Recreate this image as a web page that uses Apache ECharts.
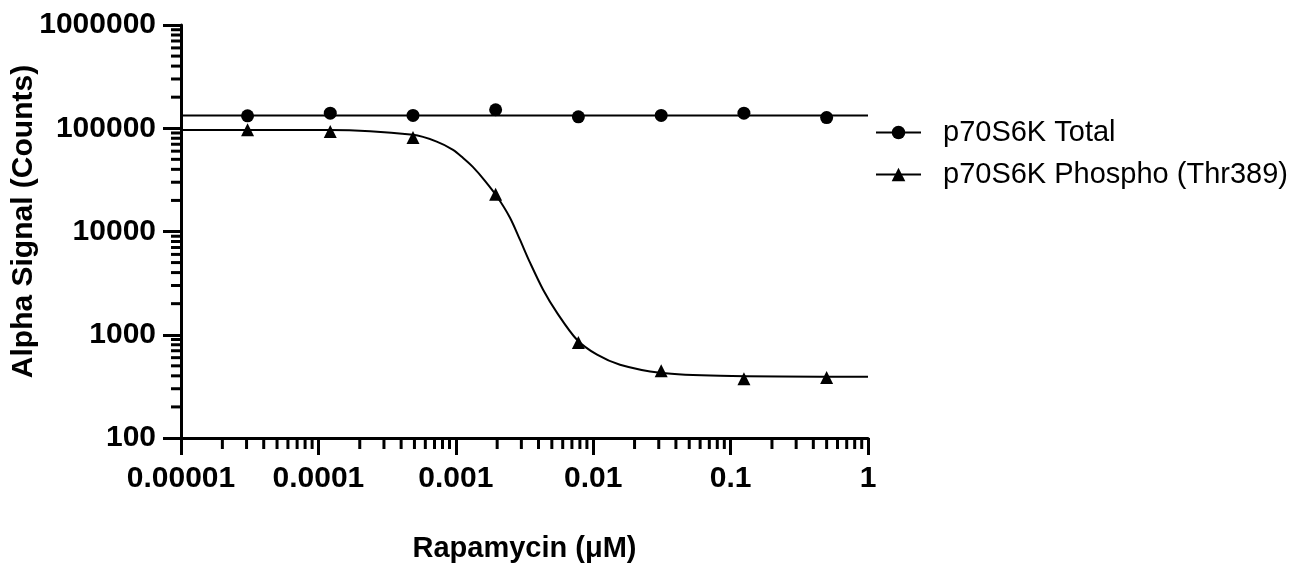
<!DOCTYPE html>
<html>
<head>
<meta charset="utf-8">
<script src="https://cdn.jsdelivr.net/npm/echarts@6/dist/echarts.min.js"></script>
<style>
html,body{margin:0;padding:0;background:#fff;}
#chart{width:1305px;height:568px;}
</style>
</head>
<body>
<div id="chart"></div>
<script>
// Concentrations (µM), four-fold dilution series
const concentrations = [0.0000305, 0.000122, 0.000488, 0.00195, 0.0078, 0.03125, 0.125, 0.5];
// Measured points
const totalValues   = [132000, 140000, 133000, 151000, 129000, 133000, 140000, 127000];
const phosphoValues = [96700, 93000, 81300, 22900, 842, 448, 375, 386];
// Fitted curves
const totalFitX = [0.00001, 1];
const totalFitY = [133000, 133000];
const phosphoFitX = [0.00001, 0.000121, 0.000489, 0.000726, 0.000955, 0.00113, 0.00133, 0.00163, 0.0020, 0.00248, 0.00293, 0.00347, 0.00432, 0.00546, 0.00762, 0.01067, 0.01567, 0.0306, 0.0838, 1];
const phosphoFitY = [96000, 96000, 86300, 74300, 61800, 51600, 42300, 31000, 21700, 13600, 8330, 4990, 2730, 1630, 895, 641, 513, 429, 401, 392];
// Axis tick labels
const xTickLabels = ['0.00001', '0.0001', '0.001', '0.01', '0.1', '1'];
const yTickLabels = ['100', '1000', '10000', '100000', '1000000'];
const seriesNames = ['p70S6K Total', 'p70S6K Phospho (Thr389)'];

const X_MIN = 0.00001, X_MAX = 1, Y_MIN = 100, Y_MAX = 1000000;

function minorValues(lo, hi) {
  const out = [];
  for (let d = lo; d < hi; d *= 10) {
    for (let k = 2; k <= 9; k++) out.push(+(d * k).toPrecision(6));
  }
  return out;
}
const xMinor = minorValues(X_MIN, X_MAX);
const yMinor = minorValues(Y_MIN, Y_MAX);

const FONT = "'Liberation Sans', Arial, sans-serif";
const chart = echarts.init(document.getElementById('chart'));

const zip = (a, b) => a.map((v, i) => [v, b[i]]);

chart.setOption({
  animation: false,
  backgroundColor: '#fff',
  grid: { left: 181, right: 437, top: 25, bottom: 130, containLabel: false, outerBoundsMode: 'none' },
  legend: {
    data: seriesNames,
    orient: 'vertical',
    left: 875,
    top: 118,
    padding: 0,
    itemWidth: 45,
    itemHeight: 17,
    itemGap: 13,
    textStyle: { fontFamily: FONT, fontSize: 29, color: '#000', padding: [0, 0, 0, 17] },
    selectedMode: false
  },
  xAxis: {
    type: 'log', logBase: 10, min: X_MIN, max: X_MAX,
    name: 'Rapamycin (\u03bcM)', nameLocation: 'middle', nameGap: 96, nameMoveOverlap: false,
    nameTextStyle: { fontFamily: FONT, fontWeight: 'bold', fontSize: 29, color: '#000' },
    axisLine: { lineStyle: { color: '#000', width: 3 } },
    axisTick: { length: 17, lineStyle: { color: '#000', width: 3 } },
    axisLabel: {
      margin: 26, fontFamily: FONT, fontWeight: 'bold', fontSize: 30, color: '#000',
      formatter: (v, i) => xTickLabels[i]
    },
    splitLine: { show: false }
  },
  yAxis: {
    type: 'log', logBase: 10, min: Y_MIN, max: Y_MAX,
    name: 'Alpha Signal (Counts)', nameLocation: 'middle', nameGap: 142, nameRotate: 90, nameMoveOverlap: false,
    nameTextStyle: { fontFamily: FONT, fontWeight: 'bold', fontSize: 30, color: '#000', padding: [0, 0, 0, 20] },
    axisLine: { lineStyle: { color: '#000', width: 3 } },
    axisTick: { length: 18, lineStyle: { color: '#000', width: 3 } },
    axisLabel: {
      margin: 25, fontFamily: FONT, fontWeight: 'bold', fontSize: 30, color: '#000',
      formatter: (v, i) => yTickLabels[i]
    },
    splitLine: { show: false }
  },
  series: [
    {
      name: seriesNames[0], type: 'line', data: zip(totalFitX, totalFitY),
      symbol: 'circle', showSymbol: false, lineStyle: { color: '#000', width: 2 },
      itemStyle: { color: '#000' }, z: 3
    },
    {
      name: seriesNames[1], type: 'line', data: zip(phosphoFitX, phosphoFitY),
      smooth: 0.3,
      symbol: 'triangle', showSymbol: false, lineStyle: { color: '#000', width: 2 },
      itemStyle: { color: '#000' }, z: 3
    },
    {
      name: seriesNames[0], type: 'scatter', data: zip(concentrations, totalValues),
      symbol: 'circle', symbolSize: 13, itemStyle: { color: '#000', opacity: 1 }, z: 4
    },
    {
      name: seriesNames[1], type: 'scatter', data: zip(concentrations, phosphoValues),
      symbol: 'triangle', symbolSize: 13, itemStyle: { color: '#000', opacity: 1 }, z: 4
    },
    {
      type: 'custom', name: 'xMinor', silent: true, clip: false,
      data: xMinor.map(v => [v, Y_MIN]),
      renderItem: (params, api) => {
        const p = api.coord([api.value(0), Y_MIN]);
        return { type: 'line', shape: { x1: p[0], y1: p[1], x2: p[0], y2: p[1] + 11 },
                 style: { stroke: '#000', lineWidth: 3 } };
      }
    },
    {
      type: 'custom', name: 'yMinor', silent: true, clip: false,
      data: yMinor.map(v => [X_MIN, v]),
      renderItem: (params, api) => {
        const p = api.coord([X_MIN, api.value(1)]);
        return { type: 'line', shape: { x1: p[0], y1: p[1], x2: p[0] - 10, y2: p[1] },
                 style: { stroke: '#000', lineWidth: 3 } };
      }
    }
  ]
});
</script>
</body>
</html>
